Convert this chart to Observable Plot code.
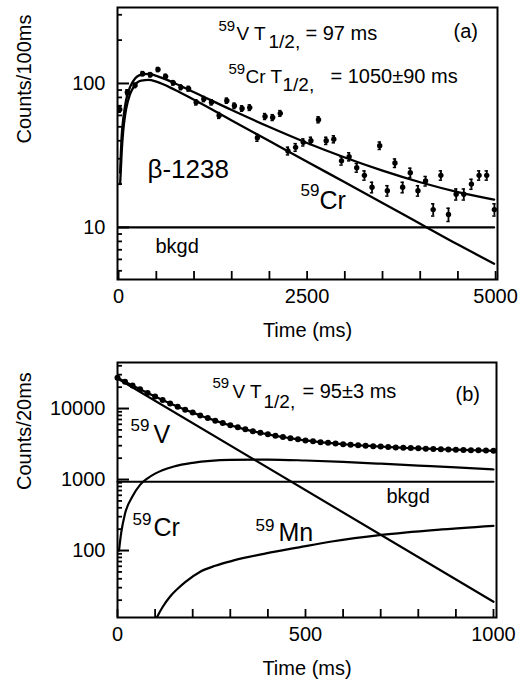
<!DOCTYPE html>
<html><head><meta charset="utf-8">
<script src="https://cdn.jsdelivr.net/npm/d3@7"></script>
<script src="https://cdn.jsdelivr.net/npm/@observablehq/plot@0.6"></script>
<style>
body{margin:0;background:#fff;}
#chart{width:530px;height:683px;}
#chart svg{display:block;overflow:visible;}
</style></head><body><div id="chart"></div>
<script>
// ---------- Panel (a) data ----------
const timeA = [15,116,218,319,421,522,623,725,826,928,1029,1130,1232,1333,1435,1536,1637,1739,1840,1942,2043,2144,2246,2347,2449,2550,2651,2753,2854,2956,3057,3158,3260,3361,3463,3564,3665,3767,3868,3970,4071,4172,4274,4375,4477,4578,4679,4781,4882,4984];
const countsA = [66,87,97,117,115,125,112,101,94,92,74,78,74,60,76,70,67,68,42,59,58,62,34,36,39,40,56,40,41,29,31,26,23,19,37,18,28,19,24,18,21,13.3,23,12.3,17,17,20,23,23,13.3];
const errA = [2.9,3.4,3.5,3.9,3.9,4.0,3.8,3.6,3.5,3.5,3.1,3.2,3.1,2.8,3.1,3.0,2.9,3.0,2.3,2.8,2.7,2.8,2.1,2.2,2.2,2.3,2.7,2.3,2.3,1.9,2.0,1.8,1.7,1.6,2.2,1.5,1.9,1.6,1.8,1.5,1.6,1.3,1.7,1.3,1.5,1.5,1.6,1.7,1.7,1.3];
const fitTimeA = [20,40,60,80,100,150,200,300,400,500,750,1000,1500,2000,2500,3000,3500,4000,4500,4980];
const totalFitA = [24,43,56,67,77,94,105,115,116.5,113,100,87,65.4,49.8,38.6,30.6,24.8,20.6,17.6,15.6];
const crFitA = [20,33.1,46.2,57.2,66.6,83.9,94.9,104.7,105.9,102.9,90.1,77.0,55.4,39.8,28.6,20.6,14.8,10.6,7.6,5.6];
const bkgdTimeA = [0,4980];
const bkgdA = [10,10];
const yMajorA = [10,100];
const yMinorA = [5,6,7,8,9,20,30,40,50,60,70,80,90,200,300];
const xLabelsA = [0,2500,5000];
const xTicksA = [0,500,1000,1500,2000,2500,3000,3500,4000,4500,5000];

// ---------- Panel (b) data ----------
const timeB = [0,20,40,60,80,100,120,140,160,180,200,220,240,260,280,300,320,340,360,380,400,420,440,460,480,500,520,540,560,580,600,620,640,660,680,700,720,740,760,780,800,820,840,860,880,900,920,940,960,980,1000];
const countsB = [27120,23880,21080,18660,16570,14750,13180,11810,10630,9640,8760,7990,7330,6750,6240,5810,5430,5090,4800,4550,4330,4130,3970,3810,3680,3560,3460,3360,3290,3210,3150,3090,3040,2990,2950,2910,2870,2830,2800,2770,2750,2720,2700,2675,2655,2635,2615,2595,2575,2560,2540];
const vTimeB = [0,1000];
const vFitB = [26500,19];
const crTimeB = [4,10,20,40,60,80,100,150,200,300,400,500,600,700,800,900,1000];
const crFitB = [100,180,330,580,841,1041,1211,1524,1720,1892,1911,1855,1769,1671,1572,1479,1385];
const mnTimeB = [80,105,120,140,160,180,219,260,307,395,483,570,702,850,1000];
const mnFitB = [6,11.5,16,22.5,29,36,50,61,72,91,111,134,166,196,223];
const bkgdTimeB = [0,1000];
const bkgdB = [930,930];
const yMajorB = [100,1000,10000];
const yMinorB = [20,30,40,50,60,70,80,90,200,300,400,500,600,700,800,900,2000,3000,4000,5000,6000,7000,8000,9000,20000,30000,40000];
const xLabelsB = [0,500,1000];
const xTicksB = [0,100,200,300,400,500,600,700,800,900,1000];

const FONT = "Liberation Sans, Arial, Helvetica, sans-serif";
const zip = (xs, ys) => xs.map((x, i) => ({t: x, v: ys[i]}));
const ptsA = timeA.map((t, i) => ({t, v: countsA[i], e: errA[i]}));
const ptsB = zip(timeB, countsB);

function label(txt, dx, dy, size) {
  return Plot.text([txt], {frameAnchor: "top-left", dx, dy, textAnchor: "start", lineAnchor: "bottom", fontSize: size});
}
// inward ticks drawn as short tick marks (insets = frame size minus tick length)
function axes(yMajor, yMinor, xTicks, xLabels, ylab, fw, fh) {
  return [
    Plot.tickY(yMinor, {y: d => d, insetRight: fw - 5, strokeWidth: 1.8}),
    Plot.tickY(yMajor, {y: d => d, insetRight: fw - 12, strokeWidth: 2}),
    Plot.tickX(xTicks, {x: d => d, insetTop: fh - 8, strokeWidth: 1.8}),
    Plot.axisY(yMajor, {anchor: "left", tickSize: 0, tickPadding: 12, tickFormat: d => String(d), fontSize: 20, label: null}),
    Plot.axisX(xLabels, {anchor: "bottom", tickSize: 0, tickPadding: 9, tickFormat: d => String(d), fontSize: 20, label: null}),
    Plot.text([ylab], {frameAnchor: "left", rotate: -90, dx: -93, fontSize: 20}),
    Plot.text(["Time (ms)"], {frameAnchor: "bottom", dy: 57, fontSize: 20}),
    Plot.frame({strokeWidth: 2})
  ];
}

const plotA = Plot.plot({
  width: 530, height: 345,
  marginLeft: 117, marginRight: 33, marginTop: 7, marginBottom: 66,
  style: {fontFamily: FONT, fontSize: "20px", color: "black", background: "white"},
  x: {domain: [-15, 5025]},
  y: {type: "log", domain: [4.35, 337]},
  marks: [
    Plot.line(zip(bkgdTimeA, bkgdA), {x: "t", y: "v", strokeWidth: 2.2}),
    Plot.line(zip(fitTimeA, crFitA), {x: "t", y: "v", strokeWidth: 2.3, curve: "monotone-x", clip: true}),
    Plot.line(zip(fitTimeA, totalFitA), {x: "t", y: "v", strokeWidth: 2.3, curve: "monotone-x", clip: true}),
    Plot.ruleX(ptsA, {x: "t", y1: d => d.v - d.e, y2: d => d.v + d.e, strokeWidth: 1.8}),
    Plot.ruleY(ptsA, {y: d => d.v + d.e, x1: d => d.t - 22, x2: d => d.t + 22, strokeWidth: 1.5}),
    Plot.ruleY(ptsA, {y: d => d.v - d.e, x1: d => d.t - 22, x2: d => d.t + 22, strokeWidth: 1.5}),
    Plot.dot(ptsA, {x: "t", y: "v", r: 2.7, fill: "black"}),
    ...axes(yMajorA, yMinorA, xTicksA, xLabelsA, "Counts/100ms", 380, 272),
    label("59", 101, 23, 15), label("V T", 119, 32, 19), label("1/2,", 151, 40, 19), label("= 97 ms", 188, 32, 20),
    label("(a)", 336, 30, 20),
    label("59", 111, 66, 15), label("Cr T", 128, 75, 19), label("1/2,", 165, 83, 19), label("= 1050\u00b190 ms", 213, 75, 20),
    label("\u03b2-1238", 30, 170, 26),
    label("59", 183, 188, 17), label("Cr", 202, 201, 25),
    label("bkgd", 38, 245, 20)
  ]
});

const plotB = Plot.plot({
  width: 530, height: 338,
  marginLeft: 117, marginRight: 34, marginTop: 17, marginBottom: 66,
  style: {fontFamily: FONT, fontSize: "20px", color: "black", background: "white"},
  x: {domain: [0, 1008]},
  y: {type: "log", domain: [11.4, 44500]},
  marks: [
    Plot.line(zip(bkgdTimeB, bkgdB), {x: "t", y: "v", strokeWidth: 2.2}),
    Plot.line(zip(vTimeB, vFitB), {x: "t", y: "v", strokeWidth: 2.2, clip: true}),
    Plot.line(zip(crTimeB, crFitB), {x: "t", y: "v", strokeWidth: 2.2, curve: "monotone-x", clip: true}),
    Plot.line(zip(mnTimeB, mnFitB), {x: "t", y: "v", strokeWidth: 2.2, curve: "monotone-x", clip: true}),
    Plot.line(ptsB, {x: "t", y: "v", strokeWidth: 2.2, curve: "monotone-x"}),
    Plot.dot(ptsB, {x: "t", y: "v", r: 3, fill: "black"}),
    ...axes(yMajorB, yMinorB, xTicksB, xLabelsB, "Counts/20ms", 379, 255),
    label("59", 95, 25, 15), label("V T", 115, 35, 19), label("1/2,", 146, 45, 19), label("= 95\u00b13 ms", 185, 35, 20),
    label("(b)", 338, 38, 20),
    label("59", 13, 68, 17), label("V", 36, 80, 25),
    label("59", 15, 162, 17), label("Cr", 36, 173, 25),
    label("59", 138, 168, 17), label("Mn", 161, 178, 25),
    label("bkgd", 269, 140, 20)
  ]
});

const root = document.getElementById("chart");
root.appendChild(plotA);
root.appendChild(plotB);
</script></body></html>
